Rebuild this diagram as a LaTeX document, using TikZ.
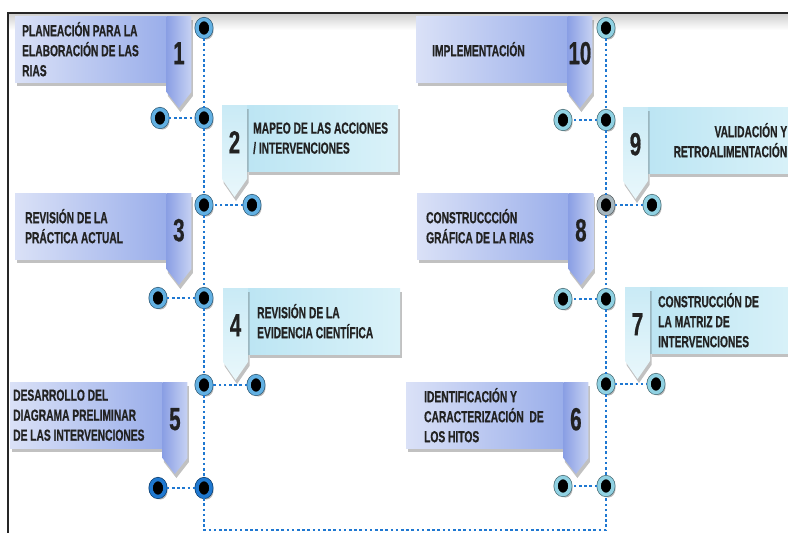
\documentclass[tikz,border=0pt]{standalone}
\usepackage{fontspec}
\newfontfamily\cajafont[FakeStretch=0.64,FakeBold=0.6]{Liberation Sans}
\usetikzlibrary{positioning,shapes.geometric,shadows}
\definecolor{lilaclaro}{HTML}{DAE1F7}
\definecolor{lilamedio}{HTML}{9AAEEA}
\definecolor{lilaoscuro}{HTML}{8A9FE4}
\definecolor{cianclaro}{HTML}{DAF2F9}
\definecolor{cianmedio}{HTML}{BCE5F3}
\definecolor{azulpunteo}{HTML}{1F78D1}
\definecolor{anillo}{HTML}{62B0E2}
\definecolor{anillocian}{HTML}{90D1E2}
\definecolor{anilloazul}{HTML}{1F78D0}
\definecolor{anillogris}{HTML}{A6B6BE}
\definecolor{tinta}{HTML}{222222}
\tikzset{
	x=1pt, y=-1pt,
	sombra/.style = {drop shadow={shadow xshift=1.5pt, shadow yshift=-4pt, opacity=.35, fill=black!70}},
	caja/.style = {sombra, anchor=north west, minimum height=66pt, inner sep=0pt},
	cajalila/.style = {caja, left color=lilaclaro, right color=lilamedio},
	cajacian/.style = {caja, left color=cianmedio, right color=cianclaro},
	rotulo/.style = {inner sep=0pt, align=left, text=tinta, font=\cajafont\bfseries\fontsize{16}{20}\selectfont},
	pestlila/.style = {sombra, left color=lilaoscuro, right color=lilaclaro!70!lilamedio},
	pestcian/.style = {sombra, top color=cianmedio!80!white, bottom color=cianclaro!60!white},
	punto/.style = {ellipse, minimum width=14pt, minimum height=17pt, inner sep=0pt, fill=black,
		drop shadow={shadow xshift=2.5pt, shadow yshift=-3pt, opacity=.4, fill=black!70},
		preaction={draw=#1!55!black, line width=5pt}, draw=#1, line width=3.5pt},
	punto/.default = anillo,
	linea/.style = {draw=azulpunteo, line width=2.6pt, dash pattern=on 2.6pt off 2.6pt}
}
\begin{document}
\begin{tikzpicture}[numero/.style={inner sep=0pt, text=tinta, font=\cajafont\bfseries\fontsize{32}{32}\selectfont}]
	\useasboundingbox (0,0) rectangle (788,533);
	% marco
	\shade[top color=black!18, bottom color=white] (9,14) rectangle (788,30);
	\draw[line width=1.6pt, draw=black!85] (8,533) -- (8,13) -- (788,13);
	% cajas
	\node[cajalila, minimum width=151pt] (t1) at (15,16) {};
	\node[cajacian, minimum width=151pt] (t2) at (247,105) {};
	\node[cajalila, minimum width=151pt] (t3) at (15,193) {};
	\node[cajacian, minimum width=152pt] (t4) at (248,288) {};
	\node[cajalila, minimum width=152pt] (t5) at (10,382) {};
	\node[cajalila, minimum width=157pt] (t6) at (406,382) {};
	\node[cajacian, minimum width=150pt] (t7) at (650,287) {};
	\node[cajalila, minimum width=151pt] (t8) at (417,193) {};
	\node[cajacian, minimum width=152pt] (t9) at (648,107) {};
	\node[cajalila, minimum width=151pt] (t10) at (416,16) {};
	% textos
	\node[rotulo, right=7pt of t1.west] (x1) {PLANEACIÓN PARA LA\\ELABORACIÓN DE LAS\\RIAS};
	\node[rotulo, right=6pt of t2.west] (x2) {MAPEO DE LAS ACCIONES\\/ INTERVENCIONES};
	\node[rotulo, right=10pt of t3.west] (x3) {REVISIÓN DE LA\\PRÁCTICA ACTUAL};
	\node[rotulo, right=9pt of t4.west] (x4) {REVISIÓN DE LA\\EVIDENCIA CIENTÍFICA};
	\node[rotulo, right=3pt of t5.west] (x5) {DESARROLLO DEL\\DIAGRAMA PRELIMINAR\\DE LAS INTERVENCIONES};
	\node[rotulo, right=18pt of t6.west] (x6) {IDENTIFICACIÓN Y\\CARACTERIZACIÓN\ \ DE\\LOS HITOS};
	\node[rotulo, right=8pt of t7.west] (x7) {CONSTRUCCIÓN DE\\LA MATRIZ DE\\INTERVENCIONES};
	\node[rotulo, right=9pt of t8.west] (x8) {CONSTRUCCCIÓN\\GRÁFICA DE LA RIAS};
	\node[rotulo, align=right, left=13pt of t9.east] (x9) {VALIDACIÓN Y\\RETROALIMENTACIÓN};
	\node[rotulo, right=16pt of t10.west] (x10) {IMPLEMENTACIÓN};
	% pestanas con flecha
	\foreach \c in {t1,t3,t5,t6,t8,t10}
		\path[pestlila] (\c.north east) -- ++(25,0) -- ++(0,76) -- ++(-12.5,16) -- ++(-12.5,-16) -- cycle;
	\foreach \c in {t2,t4,t7,t9}
		\path[pestcian] (\c.north west) -- ++(0,74) -- ++(-12.5,18) -- ++(-12.5,-18) -- ++(0,-74) -- cycle;
	\foreach \c/\n in {t1/1,t3/3,t5/5,t6/6,t8/8,t10/10}
		\node[numero] (n\n) at ([xshift=12.5pt, yshift=-4pt]\c.east) {\n};
	\foreach \c/\n in {t2/2,t4/4,t7/7,t9/9}
		\node[numero] (n\n) at ([xshift=-12.5pt, yshift=-4pt]\c.west) {\n};
	% puntos
	\node[punto] (a0) at (204,28) {};
	\node[punto] (a1) at (204,118) {};
	\node[punto] (b1) at (160,118) {};
	\node[punto] (a2) at (204,205) {};
	\node[punto] (b2) at (252,205) {};
	\node[punto] (a3) at (204,298) {};
	\node[punto] (b3) at (158,298) {};
	\node[punto] (a4) at (204,385) {};
	\node[punto] (b4) at (256,385) {};
	\node[punto=anilloazul] (a5) at (204,488) {};
	\node[punto=anilloazul] (b5) at (158,488) {};
	\node[punto=anillocian] (c0) at (606,28) {};
	\node[punto=anillocian] (c1) at (606,120) {};
	\node[punto=anillocian] (d1) at (563,120) {};
	\node[punto=anillogris] (c2) at (606,205) {};
	\node[punto=anillocian] (d2) at (652,205) {};
	\node[punto=anillocian] (c3) at (606,299) {};
	\node[punto=anillocian] (d3) at (563,299) {};
	\node[punto=anillocian] (c4) at (606,384) {};
	\node[punto=anillocian] (d4) at (656,384) {};
	\node[punto=anillocian] (c5) at (606,486) {};
	\node[punto=anillocian] (d5) at (563,486) {};
	\coordinate (esqA) at (204,530);
	\coordinate (esqB) at (606,530);
	% lineas punteadas
	\foreach \i/\j in {0/1,1/2,2/3,3/4,4/5} {
		\draw[linea] (a\i) -- (a\j);
		\draw[linea] (c\i) -- (c\j);
	}
	\foreach \i in {1,...,5} {
		\draw[linea] (b\i) -- (a\i);
		\draw[linea] (c\i) -- (d\i);
	}
	\draw[linea] (a5) -- (esqA) -- (esqB) -- (c5);
\end{tikzpicture}
\end{document}
